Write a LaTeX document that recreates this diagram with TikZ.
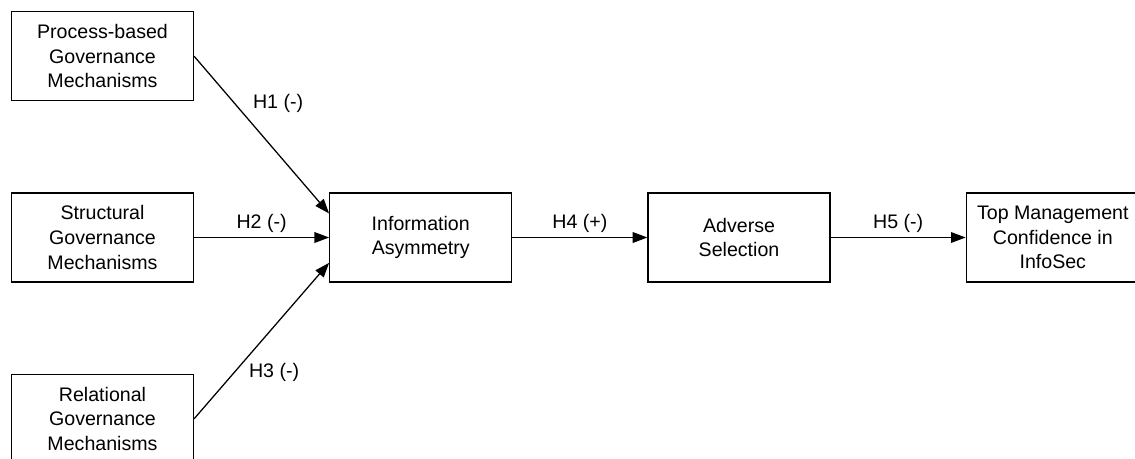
\documentclass[tikz,border=0pt]{standalone}
\usepackage{fontspec}
\setmainfont{Liberation Sans}
\usetikzlibrary{positioning,arrows.meta}
\tikzstyle{construct}=[
        draw,
        line width = 0.95pt,
        minimum width = 136.5pt,
        minimum height = 66.75pt,
        inner sep = 2pt,
        align = center,
        font = \fontsize{14.7}{18.4}\selectfont
    ]
\tikzstyle{hypo}=[
    -{Triangle[length=11pt,width=8pt]},
    line width = 0.95pt
]
\begin{document}
\begin{tikzpicture}[x=0.75pt, y=-0.75pt, node distance={68.25pt and 101.25pt},
    hlabel/.style = {font=\fontsize{14.7}{18.4}\selectfont}]
        \useasboundingbox (0,0) rectangle (1135,458);
        \node[construct] (struct) at (102.5,237.5) {Structural\\Governance\\Mechanisms};
        \node[construct] (process) [above = of struct] {Process-based\\Governance\\Mechanisms};
        \node[construct] (relat) [below = of struct] {Relational\\Governance\\Mechanisms};
        \node[construct] (infoasym) [right = of struct] {Information\\Asymmetry};
        \node[construct] (adverse) [right = of infoasym] {Adverse\\Selection};
        \node[construct, minimum width = 129.75pt] (topmgmt) [right = of adverse] {Top Management\\Confidence in\\InfoSec};

        \draw[hypo] (process.east) -- ([yshift=18pt]infoasym.west) node [hlabel, pos=0.3, right=10pt] {H1 (-)};
        \draw[hypo] (struct) -- (infoasym) node [hlabel, midway, above] {H2 (-)};
        \draw[hypo] (relat.east) -- ([yshift=-19pt]infoasym.west) node [hlabel, pos=0.3, right=7pt] {H3 (-)};
        \draw[hypo] (infoasym) -- (adverse) node [hlabel, midway, above] {H4 (+)};
        \draw[hypo] (adverse) -- (topmgmt) node [hlabel, midway, above] {H5 (-)};

    \end{tikzpicture}
\end{document}
